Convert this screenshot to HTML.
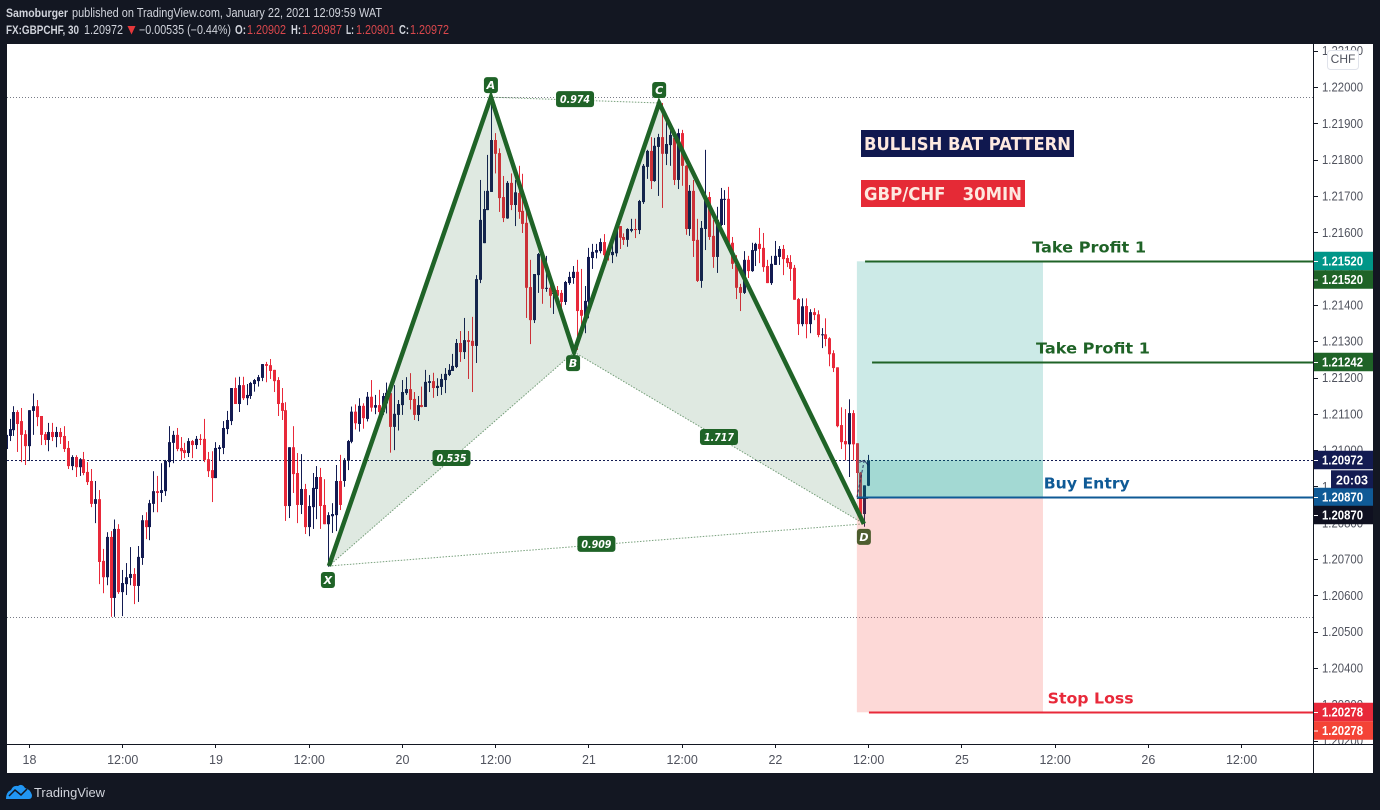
<!DOCTYPE html>
<html lang="en">
<head>
<meta charset="utf-8">
<title>GBPCHF Bullish Bat Pattern</title>
<style>
html,body{margin:0;padding:0;background:#131722;width:1380px;height:810px;overflow:hidden}
svg{display:block;font-family:"Liberation Sans",sans-serif}
</style>
</head>
<body>
<svg id="chart" xmlns="http://www.w3.org/2000/svg" width="1380" height="810" viewBox="0 0 1380 810">
  <defs>
    <clipPath id="paneClip"><rect x="7" y="44" width="1306" height="700"/></clipPath>
    <clipPath id="axisClip"><rect x="1314" y="44" width="59" height="700"/></clipPath>
  </defs>
  <rect x="0" y="0" width="1380" height="810" fill="#131722"/>
  <rect x="7" y="44" width="1366" height="729" fill="#ffffff"/>

  <g font-size="12.5" fill="#d1d4dc">
    <text x="6" y="17" font-size="12" font-weight="bold" textLength="62" lengthAdjust="spacingAndGlyphs">Samoburger</text>
    <text x="72" y="17" textLength="310" lengthAdjust="spacingAndGlyphs">published on TradingView.com, January 22, 2021 12:09:59 WAT</text>
    <text x="6" y="34" font-size="12" font-weight="bold" textLength="73" lengthAdjust="spacingAndGlyphs">FX:GBPCHF, 30</text>
    <text x="84" y="34" textLength="39" lengthAdjust="spacingAndGlyphs">1.20972</text>
    <polygon points="127.5,26 135.5,26 131.5,34.5" fill="#e5383b"/>
    <text x="139" y="34" textLength="92" lengthAdjust="spacingAndGlyphs">−0.00535 (−0.44%)</text>
    <text x="235" y="34" font-weight="bold" textLength="11" lengthAdjust="spacingAndGlyphs">O:</text>
    <text x="247" y="34" fill="#d9474c" textLength="39" lengthAdjust="spacingAndGlyphs">1.20902</text>
    <text x="291" y="34" font-weight="bold" textLength="10" lengthAdjust="spacingAndGlyphs">H:</text>
    <text x="302" y="34" fill="#d9474c" textLength="40" lengthAdjust="spacingAndGlyphs">1.20987</text>
    <text x="346" y="34" font-weight="bold" textLength="8" lengthAdjust="spacingAndGlyphs">L:</text>
    <text x="356" y="34" fill="#d9474c" textLength="39" lengthAdjust="spacingAndGlyphs">1.20901</text>
    <text x="399" y="34" font-weight="bold" textLength="10" lengthAdjust="spacingAndGlyphs">C:</text>
    <text x="410" y="34" fill="#d9474c" textLength="39" lengthAdjust="spacingAndGlyphs">1.20972</text>
  </g>

  <g id="pane" clip-path="url(#paneClip)"></g>
  <g id="axes"></g>

  <g font-weight="bold" font-size="18" fill="#fde9e0" font-family="'DejaVu Sans',sans-serif">
    <rect x="861" y="130" width="213" height="27" fill="#10184f"/>
    <text x="864" y="150" textLength="207" lengthAdjust="spacingAndGlyphs">BULLISH BAT PATTERN</text>
    <rect x="861" y="180" width="164" height="27" fill="#e52a36"/>
    <text x="864" y="200" textLength="158" xml:space="preserve" lengthAdjust="spacingAndGlyphs">GBP/CHF   30MIN</text>
  </g>

  <g>
    <rect x="1327.5" y="50.5" width="31" height="19" rx="3" fill="#ffffff" stroke="#e0e3eb"/>
    <text x="1343" y="63" text-anchor="middle" font-size="12" fill="#50535e">CHF</text>
  </g>

  <g>
    <path d="M6 799 Q6 792 11 790 Q13 785 18 786 Q22 783 25 788 Q30 789 32 795 Q32 799 29 799 Z" fill="#2196f3"/>
    <path d="M9 796 L15 790 L21 795 L27 789" fill="none" stroke="#131722" stroke-width="1.5"/>
    <text x="34" y="797" font-size="13" fill="#d1d4dc" textLength="71" lengthAdjust="spacingAndGlyphs">TradingView</text>
  </g>
</svg>

<script>
// All prices below are expressed in points above 1.20000 (1 point = 0.00001)
const basePrice = 1.2;
const opens = [
1003,1039,1055,1105,1080,1044,1011,1108,1121,1094,
1044,1028,1050,1036,1050,1039,1006,956,981,953,
975,940,915,852,865,695,650,761,593,783,
609,631,648,659,626,703,807,788,852,887,
882,887,967,1020,1042,1006,1000,992,1025,1014,
1031,1031,975,945,923,1003,1006,1058,1080,1171,
1127,1179,1143,1149,1182,1190,1199,1237,1234,1221,
1193,1130,1110,846,1008,937,849,893,788,843,
893,926,849,796,818,821,915,915,971,1023,
1106,1072,1122,1086,1147,1117,1124,1105,1129,1157,
1064,1097,1124,1157,1168,1141,1097,1124,1119,1185,
1190,1171,1174,1193,1207,1218,1229,1295,1270,1303,
1301,1287,1469,1570,1661,1711,1854,1818,1697,1638,
1736,1675,1708,1659,1626,1449,1358,1482,1535,1444,
1447,1430,1441,1433,1408,1460,1474,1491,1386,1370,
1409,1529,1544,1548,1573,1542,1537,1542,1617,1587,
1579,1604,1609,1606,1683,1780,1824,1741,1835,1862,
1816,1840,1860,1744,1873,1783,1609,1714,1579,1466,
1609,1697,1590,1532,1620,1690,1692,1571,1510,1449,
1433,1524,1493,1549,1568,1557,1507,1460,1510,1532,
1554,1529,1518,1502,1416,1347,1397,1347,1380,1374,
1318,1319,1308,1267,1228,1069,1025,1016,1102,1019,
938,824,902];
const highs = [
1055,1086,1121,1110,1116,1055,1110,1156,1138,1094,
1050,1075,1075,1064,1061,1066,1025,986,986,978,
995,967,948,915,890,728,774,777,809,796,
670,689,733,675,736,821,829,863,942,929,
964,973,1066,1053,1061,1036,1020,1033,1028,1039,
1044,1086,995,997,1022,1014,1080,1108,1171,1200,
1202,1202,1182,1188,1196,1207,1237,1243,1251,1221,
1201,1171,1132,1008,1066,992,989,907,876,937,
956,951,920,829,854,959,987,978,1028,1120,
1126,1143,1129,1160,1193,1152,1166,1157,1186,1157,
1179,1138,1193,1201,1212,1160,1149,1175,1221,1207,
1213,1198,1210,1226,1237,1265,1306,1328,1364,1328,
1367,1482,1744,1714,1813,1955,1873,1831,1755,1741,
1762,1744,1783,1761,1661,1524,1485,1543,1540,1535,
1469,1452,1452,1441,1466,1491,1507,1524,1499,1452,
1557,1568,1568,1583,1595,1547,1570,1617,1617,1597,
1611,1637,1637,1689,1788,1827,1862,1860,1871,1956,
1926,1895,1879,1885,1882,1785,1730,1744,1637,1631,
1827,1711,1634,1670,1722,1716,1725,1587,1537,1458,
1548,1535,1571,1571,1612,1598,1524,1535,1576,1562,
1565,1537,1537,1510,1419,1418,1418,1388,1391,1385,
1336,1363,1311,1275,1228,1118,1113,1140,1110,1019,
940,903,987];
const lows = [
996,1025,1039,995,967,959,970,1042,1066,1014,
1014,997,1025,1008,1017,995,948,945,926,929,
931,904,843,799,631,606,628,541,541,604,
543,601,628,576,582,684,755,752,829,829,
857,874,953,964,997,973,978,981,978,1003,
1014,967,926,857,923,970,989,1044,1069,1127,
1105,1138,1124,1141,1161,1175,1190,1187,1196,1160,
1094,1083,805,813,882,799,824,769,763,783,
810,783,796,679,772,777,835,899,945,1019,
1057,1051,1059,1079,1106,1099,1097,1097,1101,993,
1000,1054,1097,1152,1112,1083,1080,1118,1119,1160,
1144,1149,1152,1157,1204,1218,1226,1243,1251,1196,
1160,1240,1460,1570,1661,1711,1762,1656,1628,1637,
1661,1617,1637,1598,1364,1292,1350,1433,1403,1436,
1392,1375,1404,1386,1400,1455,1458,1276,1322,1322,
1363,1499,1528,1542,1522,1522,1515,1533,1554,1565,
1560,1600,1584,1595,1678,1747,1719,1739,1700,1667,
1785,1783,1730,1719,1728,1593,1590,1532,1463,1447,
1551,1579,1502,1488,1617,1620,1568,1499,1416,1383,
1430,1474,1491,1507,1515,1491,1460,1455,1510,1510,
1482,1504,1466,1414,1317,1341,1308,1322,1358,1311,
1281,1286,1231,1215,1063,1003,972,926,972,871,
821,789,901];
const closes = [
1042,1058,1105,1072,1042,1011,1110,1121,1091,1042,
1028,1050,1036,1050,1036,1003,956,981,953,975,
937,912,852,865,692,650,761,593,783,609,
634,650,659,626,706,807,788,854,887,882,
890,970,1022,1042,1003,997,992,1025,1014,1031,
1029,973,942,923,1006,1008,1061,1083,1171,1127,
1179,1143,1152,1185,1193,1201,1237,1232,1218,1190,
1127,1108,846,1008,934,849,893,788,846,896,
926,846,796,821,824,915,849,973,1025,1106,
1074,1122,1088,1147,1117,1124,1105,1149,1158,1064,
1100,1127,1160,1168,1138,1097,1124,1119,1188,1190,
1171,1177,1196,1210,1221,1232,1295,1270,1303,1298,
1287,1471,1634,1664,1714,1854,1816,1694,1639,1736,
1675,1710,1656,1623,1447,1358,1485,1540,1444,1447,
1425,1433,1425,1408,1463,1477,1491,1383,1370,1411,
1532,1546,1551,1573,1537,1537,1546,1617,1585,1579,
1609,1609,1606,1686,1783,1824,1741,1838,1862,1816,
1843,1868,1744,1873,1783,1609,1714,1576,1466,1612,
1689,1587,1532,1634,1692,1692,1571,1513,1447,1433,
1524,1493,1551,1568,1554,1504,1460,1513,1535,1554,
1526,1515,1499,1414,1347,1396,1347,1380,1372,1317,
1319,1306,1264,1226,1066,1022,1016,1102,1016,937,
824,903,972];
// Number of leading candles that precede the first time-axis label ("18")
const leadingBars = 6;

const timeLabels = ["18","12:00","19","12:00","20","12:00","21","12:00","22","12:00","25","12:00","26","12:00"];
const barsPerTimeLabel = 24;
const priceTicks = ["1.22100","1.22000","1.21900","1.21800","1.21700","1.21600","1.21500","1.21400","1.21300","1.21200","1.21100","1.21000","1.20900","1.20800","1.20700","1.20600","1.20500","1.20400","1.20300","1.20200"];

// XABCD harmonic pattern: bar offset from the "18" label, and price
const patternNames = ["X","A","B","C","D"];
const patternBars = [77.2,118.9,140.3,162.2,214.9];
const patternPrices = [1.20681,1.21972,1.2127,1.21956,1.20797];
const ratioValues = ["0.535","0.974","1.717","0.909"];

// Horizontal reference levels
const dottedLevelPrices = [1.21972,1.20972,1.2054];
const levelNames = ["take-profit-upper","take-profit-lower","buy-entry","stop-loss"];
const levelPrices = [1.2152,1.21242,1.2087,1.20278];
const levelStartBars = [215.2,217,213.2,216.2];
const levelTexts = ["Take Profit 1","Take Profit 1","Buy Entry","Stop Loss"];
const levelTextBars = [258.2,259.2,261.2,262.2];

// Long position box
const positionStartBar = 213.1;
const positionEndBar = 261;
const positionTarget = 1.2152;
const positionEntry = 1.2087;
const positionStop = 1.20278;
const positionLast = 1.20972;

// Price-axis badges
const badgePrices = [1.2152,1.2152,1.21242,1.20972,1.2087,1.2087,1.20278,1.20278];
const badgeOffsets = [0,18.5,0,0,0,18,0,18.5];
const badgeTexts = ["1.21520","1.21520","1.21242","1.20972","1.20870","1.20870","1.20278","1.20278"];
const badgeColors = ["#009688","#1f6327","#1f6327","#131b52","#0f5a96","#0f1020","#e8293a","#f44336"];
const countdownText = "20:03";

const SVGNS = "http://www.w3.org/2000/svg";
const GREEN = "#1f6327";
const paneEl = document.getElementById("pane");
const axesEl = document.getElementById("axes");

function xOfBar(bar){ return 29 + bar * 3.885; }
function yOfPrice(price){ return 87 + (1.22 - price) * 36313; }
function priceOfPoints(pts){ return basePrice + pts / 100000; }
function make(parent, tag, attrs, text){
  const el = document.createElementNS(SVGNS, tag);
  for (const k in attrs) el.setAttribute(k, attrs[k]);
  if (text !== undefined) el.textContent = text;
  parent.appendChild(el);
  return el;
}

// Dotted price levels
dottedLevelPrices.forEach(function(p, i){
  const y = Math.round(yOfPrice(p)) + 0.5;
  const el = make(paneEl, "line", {x1:7, x2:1313, y1:y, y2:y, stroke: i === 1 ? "#131b52" : "#787b86", "stroke-width":1, "stroke-dasharray": i === 1 ? "2 2" : "1 2"});
  
  
});

// Candles
opens.forEach(function(o, i){
  const c = closes[i];
  const color = c >= o ? "#131b52" : "#e8293a";
  const cx = Math.round(xOfBar(i - leadingBars));
  const yH = yOfPrice(priceOfPoints(highs[i]));
  const yL = yOfPrice(priceOfPoints(lows[i]));
  const yO = yOfPrice(priceOfPoints(o));
  const yC = yOfPrice(priceOfPoints(c));
  const g = make(paneEl, "g", {});
  
  
  const wick = make(g, "rect", {x:cx, y:yH, width:1, height:Math.max(1, yL - yH), fill:color});
  
  
  const body = make(g, "rect", {x:cx - 1, y:Math.min(yO, yC), width:3, height:Math.max(1, Math.abs(yO - yC)), fill:color});
  
  
});

// Pattern
const pts = patternBars.map(function(b, i){ return [xOfBar(b), yOfPrice(patternPrices[i])]; });
const triangles = [[0,1,2],[2,3,4]];
triangles.forEach(function(t){
  const el = make(paneEl, "polygon", {points:t.map(function(k){ return pts[k].join(","); }).join(" "), fill:"rgba(31,99,39,0.14)"});
  
  
});
const ratioPairs = [[0,2],[1,3],[2,4],[0,4]];
ratioPairs.forEach(function(p){
  const el = make(paneEl, "line", {x1:pts[p[0]][0], y1:pts[p[0]][1], x2:pts[p[1]][0], y2:pts[p[1]][1], stroke:GREEN, "stroke-opacity":0.6, "stroke-width":1, "stroke-dasharray":"1.5 1.5"});
  
  
});

// Long position
const px1 = xOfBar(positionStartBar);
const px2 = xOfBar(positionEndBar);
const profitZone = make(paneEl, "rect", {x:px1, y:yOfPrice(positionTarget), width:px2 - px1, height:yOfPrice(positionEntry) - yOfPrice(positionTarget), fill:"rgba(0,150,136,0.2)"});


const stopZone = make(paneEl, "rect", {x:px1, y:yOfPrice(positionEntry), width:px2 - px1, height:yOfPrice(positionStop) - yOfPrice(positionEntry), fill:"rgba(244,67,54,0.2)"});


const openZone = make(paneEl, "rect", {x:px1 + 1, y:yOfPrice(positionLast), width:px2 - px1 - 1, height:yOfPrice(positionEntry) - yOfPrice(positionLast), fill:"rgba(0,150,136,0.2)"});


const tradeArrow = make(paneEl, "polyline", {points:[[px1, yOfPrice(positionEntry)],[xOfBar(215), yOfPrice(positionLast)]].map(function(a){ return a.join(","); }).join(" "), fill:"none", stroke:"#131b52", "stroke-width":1, "stroke-dasharray":"3 2", "stroke-opacity":0.8});


const arrowX = xOfBar(215);
const arrowY = yOfPrice(positionLast);
const arrowHead = make(paneEl, "polyline", {points:[[arrowX - 5, arrowY + 2],[arrowX, arrowY],[arrowX + 4, arrowY + 5]].map(function(a){ return a.join(","); }).join(" "), fill:"none", stroke:"#131b52", "stroke-width":1, "stroke-opacity":0.8});


const entryBase = make(paneEl, "line", {x1:px1, x2:xOfBar(216), y1:yOfPrice(positionEntry) + 1, y2:yOfPrice(positionEntry) + 1, stroke:"#000000", "stroke-width":1});



// Pattern legs drawn above the fills and candles
const leg = make(paneEl, "polyline", {points:pts.map(function(p){ return p.join(","); }).join(" "), fill:"none", stroke:GREEN, "stroke-width":4.5, "stroke-linejoin":"miter", "stroke-miterlimit":10});



ratioPairs.forEach(function(p, i){
  const mx = (pts[p[0]][0] + pts[p[1]][0]) / 2;
  const my = (pts[p[0]][1] + pts[p[1]][1]) / 2 - 1;
  const g = make(paneEl, "g", {});
  
  
  make(g, "rect", {x:mx - 19, y:my - 8, width:38, height:16, rx:3, fill:GREEN});
  make(g, "text", {x:mx, y:my + 4, "text-anchor":"middle", "font-size":11, "font-weight":"bold", "font-style":"italic", fill:"#ffffff", "font-family":"'DejaVu Sans',sans-serif", textLength:30, lengthAdjust:"spacingAndGlyphs"}, ratioValues[i]);
});

const vertexOffsets = [14,-12,11,-13,13];
patternNames.forEach(function(name, i){
  const cx = pts[i][0] - (i === 2 ? 1 : 0) - (i === 0 ? 1 : 0);
  const cy = pts[i][1] + vertexOffsets[i];
  const g = make(paneEl, "g", {});
  
  
  make(g, "rect", {x:cx - 7, y:cy - 8, width:14, height:16, rx:3, fill: name === "D" ? "#4d5d2e" : GREEN});
  make(g, "text", {x:cx, y:cy + 4, "text-anchor":"middle", "font-size":11, "font-weight":"bold", "font-style":"italic", fill:"#ffffff", "font-family":"'DejaVu Sans',sans-serif"}, name);
});

// Levels and their labels
const levelColors = [GREEN, GREEN, "#0f5a96", "#e8293a"];
const levelTextWidths = [114,114,86,86];
levelPrices.forEach(function(p, i){
  const y = Math.round(yOfPrice(p)) + 0.5;
  const line = make(paneEl, "line", {x1:xOfBar(levelStartBars[i]), x2:1313, y1:y, y2:y, stroke:levelColors[i], "stroke-width":2});
  
  
  const tx = make(paneEl, "text", {x:xOfBar(levelTextBars[i]), y:y - 9, "font-size":15, "font-weight":"bold", fill:levelColors[i], "font-family":"'DejaVu Sans',sans-serif", textLength:levelTextWidths[i], lengthAdjust:"spacingAndGlyphs"}, levelTexts[i]);
  
  
});

// Axes
const yAxisLine = make(axesEl, "line", {x1:1313.5, x2:1313.5, y1:44, y2:773, stroke:"#131722", "stroke-width":1});


const xAxisLine = make(axesEl, "line", {x1:7, x2:1373, y1:744.5, y2:744.5, stroke:"#131722", "stroke-width":1});



const priceClip = make(axesEl, "g", {"clip-path":"url(#axisClip)"});


priceTicks.forEach(function(label){
  const y = yOfPrice(parseFloat(label));
  const mark = make(priceClip, "line", {x1:1314, x2:1318, y1:Math.round(y) + 0.5, y2:Math.round(y) + 0.5, stroke:"#131722"});
  
  
  const tx = make(priceClip, "text", {x:1322, y:y + 4.5, "font-size":12.5, fill:"#50535e", textLength:41, lengthAdjust:"spacingAndGlyphs"}, label);
  
  
});

timeLabels.forEach(function(label, i){
  const x = xOfBar(i * barsPerTimeLabel);
  const mark = make(axesEl, "line", {x1:Math.round(x) + 0.5, x2:Math.round(x) + 0.5, y1:745, y2:748, stroke:"#131722"});
  
  
  const tx = make(axesEl, "text", {x:x + 0.5, y:764, "text-anchor":"middle", "font-size":12.5, fill:"#50535e"}, label);
  
  
});

badgePrices.forEach(function(p, i){
  const cy = Math.round(yOfPrice(p)) + badgeOffsets[i];
  const rect = make(axesEl, "rect", {x:1314, y:cy - 9.25, width:59, height:18.5, fill:badgeColors[i]});
  
  
  const mark = make(axesEl, "line", {x1:1314, x2:1318, y1:cy + 0.5, y2:cy + 0.5, stroke:"#ffffff"});
  
  
  const tx = make(axesEl, "text", {x:1322, y:cy + 4.5, "font-size":12.5, "font-weight":"bold", fill:"#ffffff", textLength:41, lengthAdjust:"spacingAndGlyphs"}, badgeTexts[i]);
  
  
});
const cdY = yOfPrice(positionLast);
const cdRect = make(axesEl, "rect", {x:1331, y:cdY + 10, width:42, height:18, fill:"#131b52"});


const cdText = make(axesEl, "text", {x:1352, y:cdY + 24, "text-anchor":"middle", "font-size":12.5, "font-weight":"bold", fill:"#ffffff"}, countdownText);


</script>
</body>
</html>
